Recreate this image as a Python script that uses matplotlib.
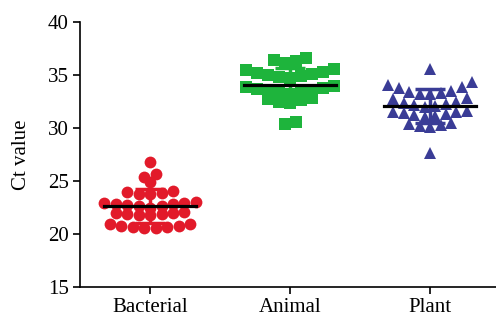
import numpy as np
import matplotlib
matplotlib.use('Agg')
import matplotlib.pyplot as plt

plt.rcParams['font.family'] = ['Liberation Serif', 'DejaVu Serif']

groups = ['Bacterial', 'Animal', 'Plant']
bacterial = [26.8, 25.7, 25.4, 24.9, 24.1, 24.0, 23.9, 23.8, 23.8,
             23.0, 22.9, 22.9, 22.8, 22.8, 22.7, 22.6, 22.6, 22.5,
             22.1, 22.0, 22.0, 21.9, 21.9, 21.8, 21.8,
             20.9, 20.9, 20.8, 20.8, 20.7, 20.7, 20.6, 20.6]
animal = [36.6, 36.4, 36.3, 36.1,
          35.6, 35.5, 35.3, 35.2, 35.1, 35.0, 34.9, 34.8, 34.7,
          34.0, 33.9, 33.8, 33.7, 33.6, 33.5, 33.4, 33.3, 33.2,
          32.8, 32.7, 32.6, 32.5, 32.4, 30.6, 30.4]
plant = [35.6, 34.3, 34.1, 33.9, 33.8, 33.5, 33.4, 33.3, 33.2, 33.2,
         32.8, 32.7, 32.5, 32.4, 32.3, 32.2, 32.1, 32.0,
         31.6, 31.5, 31.5, 31.4, 31.3, 31.2, 31.1, 31.0,
         30.5, 30.4, 30.3, 30.2, 30.1, 27.6]
data = [bacterial, animal, plant]
colors = ['#E21A2A', '#1EB43C', '#3A3C96']
markers = ['o', 's', '^']
gaps = [0.082, 0.078, 0.075]

W, H = 496, 320
fig = plt.figure(figsize=(W / 100, H / 100), dpi=100)
ax = fig.add_axes([80 / W, 33 / H, 416 / W, 265 / H])
ax.set_xlim(0.5, 3.47)
ax.set_ylim(15, 40)


# prism-like scatter: points with close values share a row, spread sideways
def rows_layout(vals, gap, split=0.35):
    v = np.array(vals, dtype=float)
    idx = np.argsort(-v)
    offs = np.zeros(len(v))
    rows = [[idx[0]]]
    for j in idx[1:]:
        if v[rows[-1][-1]] - v[j] > split:
            rows.append([j])
        else:
            rows[-1].append(j)
    for r in rows:
        r = sorted(r, key=lambda k: v[k])  # lowest in the middle
        n = len(r)
        slots = (np.arange(n) - (n - 1) / 2.0) * gap
        slots = sorted(slots, key=lambda s: (abs(s), s))
        for k, s in zip(r, slots):
            offs[k] = s
    return offs


for i, vals in enumerate(data):
    x0 = i + 1
    m = np.mean(vals)
    sd = np.std(vals, ddof=1)
    ax.errorbar(x0, m, yerr=sd, color=colors[i], lw=2.5, capsize=11,
                capthick=2.5, zorder=2)
    offs = rows_layout(vals, gaps[i])
    ax.plot(x0 + offs, vals, linestyle='none', marker=markers[i],
            color=colors[i], markersize=8.5 if i != 1 else 8, zorder=3,
            markeredgewidth=0)
    ax.plot([x0 - 0.33, x0 + 0.33], [m, m], color='black', lw=2.3, zorder=4)

ax.set_xticks([1, 2, 3])
ax.set_xticklabels(groups, fontsize=15)
ax.set_yticks([15, 20, 25, 30, 35, 40])
ax.tick_params(axis='y', labelsize=15, length=5, width=1.2, direction='out', pad=3)
ax.tick_params(axis='x', length=5, width=1.2, direction='out', pad=3)
ax.set_ylabel('Ct value', fontsize=15, labelpad=12)
ax.spines['top'].set_visible(False)
ax.spines['right'].set_visible(False)
ax.spines['left'].set_linewidth(1.2)
ax.spines['bottom'].set_linewidth(1.2)

fig.savefig('out.png', dpi=100)
